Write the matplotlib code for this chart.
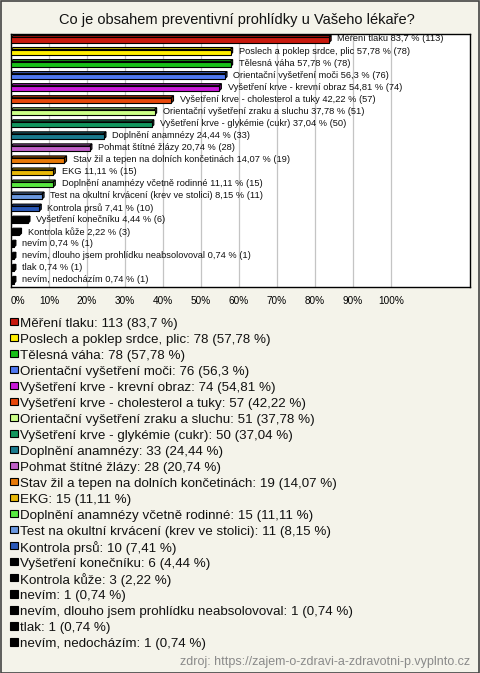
import matplotlib
matplotlib.use("Agg")
import numpy as np
import matplotlib.pyplot as plt
from matplotlib.patches import Rectangle
from matplotlib.colors import to_rgb

plt.rcParams['font.family'] = ['Liberation Sans', 'DejaVu Sans']

# Data
title = "Co je obsahem preventivní prohlídky u Vašeho lékaře?"
labels = [
    "Měření tlaku", "Poslech a poklep srdce, plic", "Tělesná váha",
    "Orientační vyšetření moči", "Vyšetření krve - krevní obraz",
    "Vyšetření krve - cholesterol a tuky", "Orientační vyšetření zraku a sluchu",
    "Vyšetření krve - glykémie (cukr)", "Doplnění anamnézy", "Pohmat štítné žlázy",
    "Stav žil a tepen na dolních končetinách", "EKG", "Doplnění anamnézy včetně rodinné",
    "Test na okultní krvácení (krev ve stolici)", "Kontrola prsů", "Vyšetření konečníku",
    "Kontrola kůže", "nevím", "nevím, dlouho jsem prohlídku neabsolovoval", "tlak",
    "nevím, nedocházím",
]
counts = [113, 78, 78, 76, 74, 57, 51, 50, 33, 28, 19, 15, 15, 11, 10, 6, 3, 1, 1, 1, 1]
percents = [83.7, 57.78, 57.78, 56.3, 54.81, 42.22, 37.78, 37.04, 24.44, 20.74,
            14.07, 11.11, 11.11, 8.15, 7.41, 4.44, 2.22, 0.74, 0.74, 0.74, 0.74]
colors = ["#c8190e", "#ffee00", "#18c018", "#4f78f0", "#c81ad8", "#e8480c",
          "#ccff88", "#12965e", "#1a7b8e", "#c060c8", "#e87a08", "#e8b808",
          "#58e840", "#6a98e0", "#2a58b8", "#000000", "#000000", "#000000",
          "#000000", "#000000", "#000000"]
xticks = np.arange(0, 101, 10)
source = "zdroj: https://zajem-o-zdravi-a-zdravotni-p.vyplnto.cz"

W, H = 480, 673
bg = "#f4f3ea"


def fmt(p):
    return f"{p:g}".replace(".", ",")


def darker(c, f=0.75):
    r, g, b = to_rgb(c)
    return (r * f, g * f, b * f)


fig = plt.figure(figsize=(W / 100, H / 100), dpi=100, facecolor=bg)
ax = fig.add_axes([11 / W, 1 - 287 / H, 459 / W, 253 / H])
ax.set_facecolor("white")

y = np.arange(len(labels))
h = 0.42
dx, dy = 0.55, 0.17

ax.barh(y, percents, height=h, color=colors, edgecolor="black", linewidth=0.8, zorder=3)
for yi, w, c in zip(y, percents, colors):
    yt = yi - h / 2
    yb = yi + h / 2
    ax.fill([0, w, w + dx, dx], [yt, yt, yt - dy, yt - dy],
            facecolor=darker(c), edgecolor="black", linewidth=0.8, zorder=2)
    ax.fill([w, w + dx, w + dx, w], [yt, yt - dy, yb - dy, yb],
            facecolor=darker(c, 0.55), edgecolor="black", linewidth=0.8, zorder=2)

for yi, lab, w, n in zip(y, labels, percents, counts):
    ax.annotate(f"{lab} {fmt(w)} % ({n})", (w + dx, yi - dy / 2),
                xytext=(4.5, 0), textcoords="offset points",
                va="center", ha="left", fontsize=6.7, color="#111111", zorder=4)

ax.set_xlim(0, 120.8)
ax.set_ylim(len(labels) - 0.5, -0.5)
ax.set_xticks(xticks)
ax.set_xticklabels([f"{t}%" for t in xticks], fontsize=7.2)
ax.get_xticklabels()[0].set_ha("left")
ax.tick_params(axis="x", length=0, pad=6.5)
ax.set_yticks([])
ax.grid(axis="x", color="#c4c4c4", linewidth=0.9, zorder=0)
ax.set_axisbelow(True)
for s in ax.spines.values():
    s.set_color("black")
    s.set_linewidth(1.0)

fig.text(236.5 / W, 1 - 20 / H, title, ha="center", va="center", fontsize=10.5, color="#111111")

# legend list below the chart
for i, (lab, n, p, c) in enumerate(zip(labels, counts, percents, colors)):
    ypx = 322 + 16.03 * i
    fig.patches.append(Rectangle((10 / W, 1 - (ypx + 3) / H), 7.5 / W, 7.5 / H,
                                 transform=fig.transFigure, facecolor=c,
                                 edgecolor="black", linewidth=0.8))
    fig.text(20.5 / W, 1 - (ypx + 1.5) / H, f"{lab}: {n} ({fmt(p)} %)",
             ha="left", va="center", fontsize=9.6, color="#111111")

fig.text(470 / W, 1 - 662 / H, source, ha="right", va="center",
         fontsize=9, color="#8a8a8a")

fig.patches.append(Rectangle((0.5 / W, 0.5 / H), (W - 1.5) / W, (H - 1.5) / H,
                             transform=fig.transFigure, fill=False,
                             edgecolor="#444444", linewidth=1.2))

fig.savefig("out.png", dpi=100, facecolor=bg)
